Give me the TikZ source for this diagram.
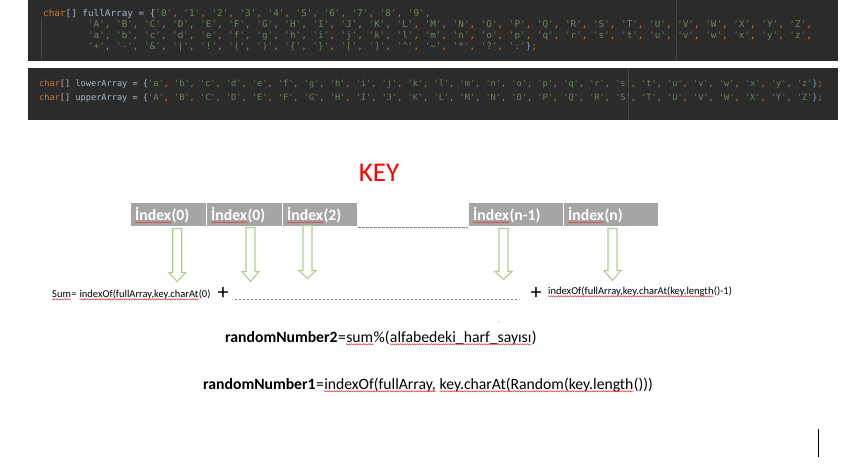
\documentclass[tikz,border=0pt]{standalone}
\usepackage{fontspec}
\setmainfont{Carlito}
\setmonofont{DejaVu Sans Mono}
\usetikzlibrary{calc,decorations.pathmorphing}

\definecolor{codebg}{HTML}{2B2B2B}
\definecolor{codekw}{HTML}{CC7832}
\definecolor{codeid}{HTML}{A9B7C6}
\definecolor{codestr}{HTML}{6A8759}
\definecolor{codebrace}{HTML}{7A9EC6}
\definecolor{codeguide}{HTML}{454545}
\definecolor{cellgray}{HTML}{A5A5A5}
\definecolor{arrowgreen}{HTML}{A9D18E}
\definecolor{keyred}{HTML}{FF0000}
\definecolor{spellred}{HTML}{E04040}

% character literals in the code listing
\newcommand\q[1]{\textcolor{codestr}{'#1'}\textcolor{codekw}{,}}
\newcommand\qe[1]{\textcolor{codestr}{'#1'}}
\newcommand\codeend{\textcolor{codebrace}{\}}\textcolor{codekw}{;}}
\newcommand\indentcode{\hphantom{00000000}}

% hollow downward block arrow: start point, shaft length, head length
\newcommand\hollowdown[3]{%
  \draw[harrow] (#1) ++(-4.5,0) -- ++(0,#2) -- ++(-4,0) -- ++(8.5,#3)
    -- ++(8.5,-#3) -- ++(-4,0) -- ++(0,-#2) -- cycle;}

% red wavy underline below a text node
\newcommand\squig[1]{%
  \draw[squiggle] ([yshift=-2.3pt]#1.base west) -- ([yshift=-2.3pt]#1.base east);}

\begin{document}
\begin{tikzpicture}[x=1pt,y=-1pt,
  codebox/.style={fill=codebg, draw=none},
  guide/.style={draw=codeguide, line width=0.8pt},
  codeline/.style={anchor=base west, inner sep=0pt, text=codeid},
  cell/.style={fill=cellgray, draw=white, line width=1pt, minimum height=24pt,
    inner sep=0pt, anchor=west},
  celltext/.style={inner sep=0pt, text=white, font=\bfseries\fontsize{15.7}{18}\selectfont},
  harrow/.style={draw=arrowgreen, fill=white, line width=1.1pt, line join=miter},
  plain/.style={inner sep=0pt, anchor=base west},
  follow/.style={inner sep=0pt, anchor=base west, at={(#1.base east)}},
  followsp/.style 2 args={inner sep=0pt, anchor=base west, at={([xshift=#2]#1.base east)}},
  small/.style={font=\fontsize{10.5}{12}\selectfont},
  formula/.style={font=\fontsize{15.7}{18}\selectfont},
  plus/.style={inner sep=0pt, font=\fontsize{22}{24}\selectfont},
  squiggle/.style={draw=spellred, line width=0.55pt, decorate,
    decoration={snake, amplitude=0.6pt, segment length=2.4pt}},
  sepline/.style={gray, line width=0.8pt, dash pattern=on 2.5pt off 1.5pt},
]
\useasboundingbox (0,0) rectangle (864,476);

% ---- code listing: full array ----
\fill[codebox] (28,0.5) rectangle (838,61);
\draw[guide] (41,17) -- (41,61);
\draw[guide] (676.5,0.5) -- (676.5,61);
\begin{scope}[every node/.append style={font=\ttfamily\fontsize{9.32}{11}\selectfont}]
\node[codeline] (f1) at (43,17) {\textcolor{codekw}{char}[] fullArray = \{\q0 \q1 \q2 \q3 \q4 \q5 \q6 \q7 \q8 \q9};
\node[codeline] (f2) at (43,28) {\indentcode\q A \q B \q C \q D \q E \q F \q G \q H \q I \q J \q K \q L \q M \q N \q O \q P \q Q \q R \q S \q T \q U \q V \q W \q X \q Y \q Z};
\node[codeline] (f3) at (43,39) {\indentcode\q a \q b \q c \q d \q e \q f \q g \q h \q i \q j \q k \q l \q m \q n \q o \q p \q q \q r \q s \q t \q u \q v \q w \q x \q y \q z};
\node[codeline] (f4) at (43,50) {\indentcode\q+ \q- \q\& \q| \q! \q( \q) \q\{ \q\} \q[ \q] \q{\textasciicircum} \q{\textasciitilde} \q* \q? \qe:\codeend};
\end{scope}

% ---- code listing: lower / upper arrays ----
\fill[codebox] (28,68) rectangle (838,120);
\draw[guide] (628,68) -- (628,120);
\begin{scope}[every node/.append style={font=\ttfamily\fontsize{8.62}{10}\selectfont}]
\node[codeline] (l1) at (39,87) {\textcolor{codekw}{char}[] lowerArray = \{\q a \q b \q c \q d \q e \q f \q g \q h \q i \q j \q k \q l \q m \q n \q o \q p \q q \q r \q s \q t \q u \q v \q w \q x \q y \qe z\codeend};
\node[codeline] (l2) at (39,101) {\textcolor{codekw}{char}[] upperArray = \{\q A \q B \q C \q D \q E \q F \q G \q H \q I \q J \q K \q L \q M \q N \q O \q P \q Q \q R \q S \q T \q U \q V \q W \q X \q Y \qe Z\codeend};
\end{scope}

% ---- key title ----
\node[text=keyred, font=\fontsize{27}{30}\selectfont, inner sep=0pt] (key) at (379,173) {KEY};

% ---- key cells ----
\node[cell, minimum width=76pt] (c1) at (130,214) {};
\node[cell, minimum width=76pt] (c2) at (206,214) {};
\node[cell, minimum width=75pt] (c3) at (282,214) {};
\node[cell, minimum width=95pt] (c4) at (468,214) {};
\node[cell, minimum width=95pt] (c5) at (563,214) {};
\foreach \c/\arg in {c1/(0), c2/(0), c3/(2), c4/(n-1), c5/(n)} {
  \node[celltext, anchor=base west] (\c w) at ($(\c.west)+(5,6)$) {İndex};
  \node[celltext, follow=\c w] (\c a) {\arg};
  \squig{\c w}
}
\draw[sepline] ($(c3.south east)+(0,1)$) -- ($(c4.south west)+(0,1)$);

% ---- arrows from cells down to the sum ----
\coordinate (a1) at ($(c1.south)+(8.7,2)$);
\coordinate (a2) at ($(c2.south)+(6,1)$);
\coordinate (a3) at ($(c3.south)+(-12.5,-1)$);
\coordinate (a4) at ($(c4.south)+(-12.5,2)$);
\coordinate (a5) at ($(c5.south)+(1.5,2)$);
\hollowdown{a1}{44}{9}
\hollowdown{a2}{44}{10}
\hollowdown{a3}{45}{8}
\hollowdown{a4}{43}{8}
\hollowdown{a5}{42}{10}

% ---- sum row ----
\node[plain, small] (s1) at (52,297) {Sum};
\node[follow=s1, small] (s2) {=};
\node[followsp={s2}{2.6pt}, small] (s3) {indexOf(fullArray,key.charAt};
\node[follow=s3, small] (s4) {(0)};
\squig{s1} \squig{s3}
\node[plus] (p1) at (223,293) {+};
\node[plus] (p2) at (536,293) {+};
\draw[sepline] ($(p1.east)+(6,6)$) -- ($(p2.west)+(-13,6)$);
\node[plain, small] (e1) at (548,294) {indexOf(fullArray,key.charAt(key.length};
\node[follow=e1, small] (e2) {()-1)};
\squig{e1}

% ---- formulas ----
\node[plain, formula] (r2a) at (225,342) {\textbf{randomNumber2}};
\node[follow=r2a, formula] (r2b) {=};
\node[follow=r2b, formula] (r2c) {sum};
\node[follow=r2c, formula] (r2d) {\%(};
\node[follow=r2d, formula] (r2e) {alfabedeki\_harf\_sayısı};
\node[follow=r2e, formula] (r2f) {)};
\squig{r2c} \squig{r2e}

\node[plain, formula] (r1a) at (203,389) {\textbf{randomNumber1}};
\node[follow=r1a, formula] (r1b) {=};
\node[follow=r1b, formula] (r1c) {indexOf(fullArray,};
\node[followsp={r1c}{3.5pt}, formula] (r1d) {key.charAt(Random(key.length};
\node[follow=r1d, formula] (r1e) {()))};
\squig{r1c} \squig{r1d}

\fill[gray] (499,322) circle (0.7);
\fill[gray] (238,381) circle (0.7);

% ---- text cursor ----
\draw[line width=1.5pt] (818.3,429) -- (818.3,457);
\end{tikzpicture}
\end{document}
